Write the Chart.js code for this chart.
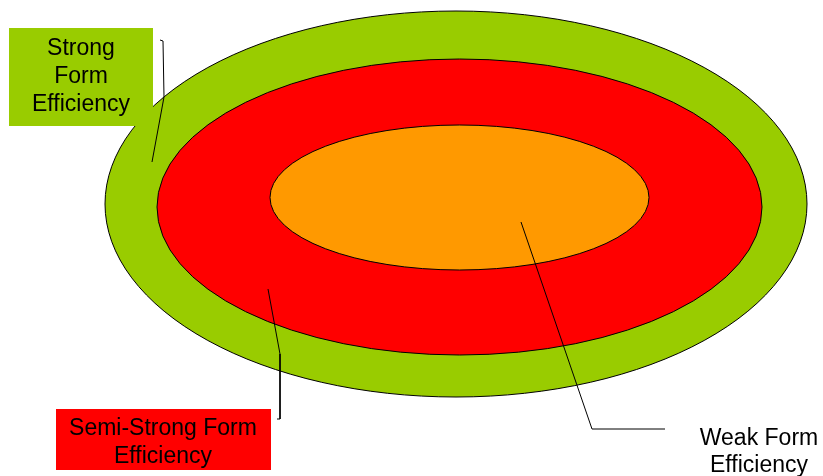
<!DOCTYPE html>
<html>
<head>
<meta charset="utf-8">
<script src="https://cdn.jsdelivr.net/npm/chart.js@4/dist/chart.umd.min.js"></script>
<style>
  html, body { margin: 0; padding: 0; background: #fff; }
  #wrap { width: 823px; height: 476px; }
</style>
</head>
<body>
<div id="wrap"><canvas id="eff-chart"></canvas></div>
<script>
// the three forms of market efficiency, outer ring first
const ringNames = ["Strong Form Efficiency", "Semi-Strong Form Efficiency", "Weak Form Efficiency"];
const ringColors = ["#99cc00", "#ff0000", "#ff9900"];
// ring centre and half sizes in axis units (x 0..823, y 0..476 from the top)
const ringCenterX = [456, 459.5, 459.5];
const ringCenterY = [204, 207, 197.5];
const ringHalfW = [351, 302.5, 189.5];
const ringHalfH = [193, 148, 72.5];

// callout lines, one per ring
const strongLine = [{x: 160, y: 40}, {x: 163, y: 41}, {x: 164, y: 97}, {x: 152, y: 162}];
const semiLine = [{x: 268, y: 289}, {x: 280, y: 354}, {x: 280, y: 419}, {x: 277, y: 419}];
const weakLine = [{x: 521, y: 222}, {x: 592, y: 429}, {x: 665, y: 429}];

// label text, line by line
const strongLabel = ["Strong", "Form", "Efficiency"];
const semiLabel = ["Semi-Strong Form", "Efficiency"];
const weakLabel = ["Weak Form", "Efficiency"];

const ellipsePlugin = {
    id: "rings",
    beforeDatasetsDraw(chart) {
        const ctx = chart.ctx;
        const xs = chart.scales.x, ys = chart.scales.y;
        ctx.save();
        for (let i = 0; i < ringNames.length; i++) {
            const cx = xs.getPixelForValue(ringCenterX[i]);
            const cy = ys.getPixelForValue(ringCenterY[i]);
            const rx = Math.abs(xs.getPixelForValue(ringCenterX[i] + ringHalfW[i]) - cx);
            const ry = Math.abs(ys.getPixelForValue(ringCenterY[i] + ringHalfH[i]) - cy);
            ctx.beginPath();
            ctx.ellipse(cx, cy, rx, ry, 0, 0, Math.PI * 2);
            ctx.fillStyle = ringColors[i];
            ctx.fill();
            ctx.lineWidth = 1;
            ctx.strokeStyle = "#000";
            ctx.stroke();
        }
        ctx.restore();
    },
    afterDatasetsDraw(chart) {
        const ctx = chart.ctx;
        const xs = chart.scales.x, ys = chart.scales.y;
        const box = (x0, y0, x1, y1, color) => {
            const px0 = xs.getPixelForValue(x0), py0 = ys.getPixelForValue(y0);
            const px1 = xs.getPixelForValue(x1), py1 = ys.getPixelForValue(y1);
            ctx.fillStyle = color;
            ctx.fillRect(px0, py0, px1 - px0, py1 - py0);
        };
        const text = (lines, x, y0, step) => {
            ctx.fillStyle = "#000";
            ctx.font = "23px 'Liberation Sans', Arial, sans-serif";
            ctx.textAlign = "center";
            ctx.textBaseline = "middle";
            lines.forEach((t, k) => {
                ctx.fillText(t, xs.getPixelForValue(x), ys.getPixelForValue(y0 + k * step));
            });
        };
        ctx.save();
        box(9, 28, 153, 126, ringColors[0]);
        text(strongLabel, 81, 49, 28);
        box(56, 409, 271, 470, ringColors[1]);
        text(semiLabel, 163, 429, 28);
        text(weakLabel, 759, 439, 27);
        ctx.restore();
    }
};

const lineStyle = {
    showLine: true,
    borderColor: "#000",
    borderWidth: 1,
    pointRadius: 0,
    fill: false,
    tension: 0
};

new Chart("eff-chart", {
    type: "scatter",
    data: {
        datasets: [
            Object.assign({label: ringNames[0], data: strongLine}, lineStyle),
            Object.assign({label: ringNames[1], data: semiLine}, lineStyle),
            Object.assign({label: ringNames[2], data: weakLine}, lineStyle)
        ]
    },
    options: {
        responsive: true,
        maintainAspectRatio: false,
        animation: false,
        layout: { padding: 0 },
        plugins: {
            legend: { display: false },
            tooltip: { enabled: false },
            title: { display: false }
        },
        scales: {
            x: { type: "linear", min: 0, max: 823, display: false },
            y: { type: "linear", min: 0, max: 476, reverse: true, display: false }
        }
    },
    plugins: [ellipsePlugin]
});
</script>
</body>
</html>
